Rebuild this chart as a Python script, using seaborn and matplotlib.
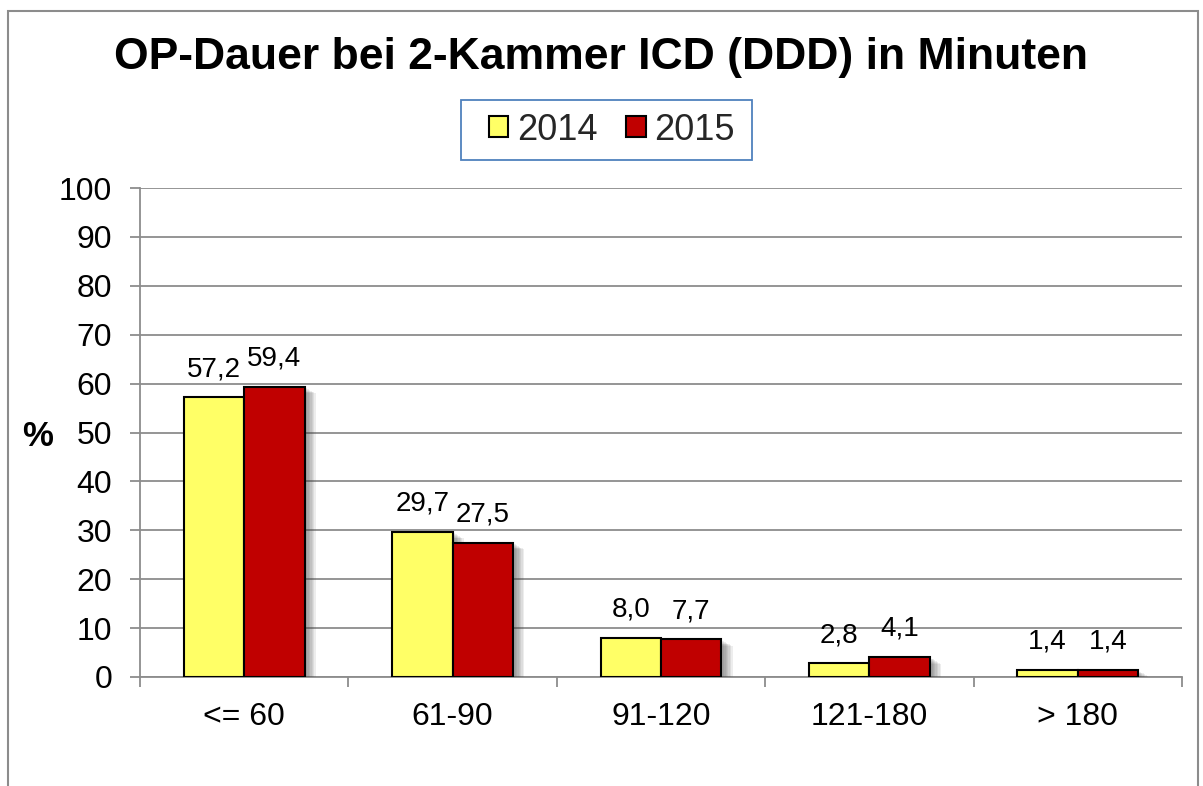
import matplotlib
matplotlib.use("Agg")
import matplotlib.pyplot as plt
import matplotlib.patheffects as pe
from matplotlib.patches import Rectangle, Patch
import seaborn as sns
import pandas as pd

categories = ["<= 60", "61-90", "91-120", "121-180", "> 180"]
years = ["2014", "2015"]
values_2014 = [57.2, 29.7, 8.0, 2.8, 1.4]
values_2015 = [59.4, 27.5, 7.7, 4.1, 1.4]
colors = ["#FFFF66", "#C00000"]

df = pd.DataFrame({
    "cat": categories * 2,
    "year": [years[0]] * 5 + [years[1]] * 5,
    "val": values_2014 + values_2015,
})

sns.set_theme(style="white")
plt.rcParams["font.family"] = ["Liberation Sans", "DejaVu Sans"]

fig = plt.figure(figsize=(12.03, 7.86), dpi=100)
ax = fig.add_axes([140/1203, 1-677/786, 1042/1203, 489/786])

sns.barplot(data=df, x="cat", y="val", hue="year", palette=colors, width=0.58,
            ax=ax, legend=False, edgecolor="black", linewidth=1.5, saturation=1)

shadow = [pe.SimplePatchShadow(offset=(o, -o * 0.6), shadow_rgbFace="#404040", alpha=0.09)
          for o in (2, 3, 4, 5, 6, 7, 8)] + [pe.Normal()]
for p in ax.patches:
    p.set_path_effects(shadow)
    p.set_zorder(3)

for cont in ax.containers:
    ax.bar_label(cont, labels=[f"{v:.1f}".replace(".", ",") for v in cont.datavalues],
                 padding=11, fontsize=20, color="black")

ax.set_ylim(0, 100)
ax.set_xlim(-0.5, 4.5)
ax.set_yticks(range(0, 101, 10))
ax.yaxis.grid(True, color="#8c8c8c", linewidth=1.3)
ax.set_axisbelow(True)
for s in ["top", "right"]:
    ax.spines[s].set_visible(False)
for s in ["left", "bottom"]:
    ax.spines[s].set_color("#8c8c8c")
    ax.spines[s].set_linewidth(1.3)

ax.tick_params(axis="y", which="major", left=True, length=7, width=1.3, color="#8c8c8c",
               labelsize=23, pad=13, labelcolor="black")
ax.set_xticks(range(5))
ax.set_xticklabels(categories)
ax.tick_params(axis="x", which="major", bottom=True, length=0, labelsize=23, pad=18, labelcolor="black")
ax.set_xticks([i - 0.5 for i in range(6)], minor=True)
ax.tick_params(axis="x", which="minor", bottom=True, length=7, width=1.3, color="#8c8c8c")

ax.set_xlabel("")
ax.set_ylabel("%", rotation=0, fontsize=25, fontweight="bold", color="black", va="center", ha="center")
ax.yaxis.set_label_coords((38-140)/1042, (677-436)/489)

fig.text(601/1203, 1-58/786, "OP-Dauer bei 2-Kammer ICD (DDD) in Minuten",
         ha="center", va="center", fontsize=32, fontweight="bold", color="black")

handles = [Patch(facecolor=colors[i], edgecolor="black", linewidth=1.5, label=years[i]) for i in range(2)]
leg = fig.legend(handles=handles, loc="center", bbox_to_anchor=(612/1203, 1-130/786), ncol=2,
                 fontsize=26, frameon=False,
                 handlelength=0.53, handleheight=0.53, handletextpad=0.25, columnspacing=0.8,
                 borderpad=0.3)

fig.patches.append(Rectangle((461/1203, 1-160/786), (752-461)/1203, 60/786, transform=fig.transFigure,
                             fill=False, edgecolor="#4F81BD", linewidth=1.3))

fig.patches.append(Rectangle((8/1203, -0.1), (1198-8)/1203, 1.1 - 11/786, transform=fig.transFigure,
                             fill=False, edgecolor="#8c8c8c", linewidth=1.5))

fig.savefig("out.png", dpi=100)
